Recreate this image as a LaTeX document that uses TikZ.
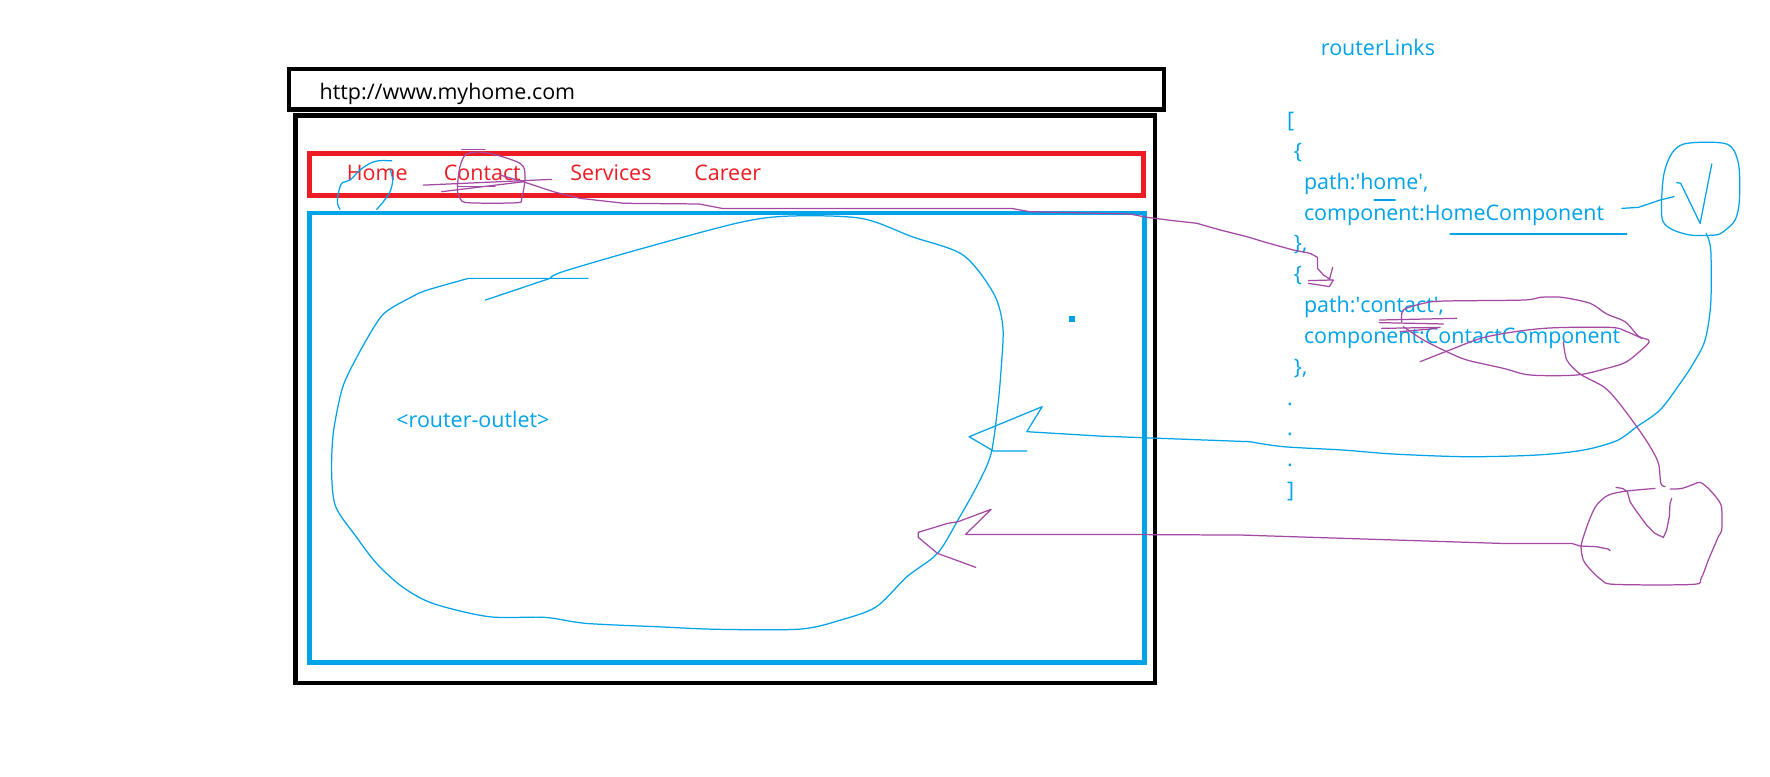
\documentclass[tikz,border=0pt]{standalone}
\usepackage{fontspec}
\newfontfamily\sketchfont{Open Sans}
\definecolor{paintblue}{HTML}{00A2E8}
\definecolor{paintred}{HTML}{ED1C24}
\definecolor{paintpurple}{HTML}{A349A4}
\tikzset{
  boxline/.style={line width=4pt},
  sketchpen/.style={line width=1.1pt, line join=round, line cap=round},
  sketchtext/.style={font=\sketchfont\fontsize{19}{23}\selectfont, inner sep=0pt, anchor=base west},
}
\begin{document}
\begin{tikzpicture}[x=1pt,y=-1pt]
\useasboundingbox[fill=white] (0,0) rectangle (1568,688);
% browser frame
\draw[boxline] (256,61) rectangle (1031,97); % address bar
\draw[boxline] (262,102.5) rectangle (1023,605); % page
\draw[boxline, paintred] (274,136) rectangle (1013,173); % menu
\draw[boxline, paintblue] (274,188.5) rectangle (1014,587); % outlet area
\node[sketchtext] (url) at (283,88.5) {http://www.myhome.com};
\node[sketchtext, text=paintred] (home) at (307,160) {Home};
\node[sketchtext, text=paintred] (contact) at (393,160) {Contact};
\node[sketchtext, text=paintred] (services) at (505,160) {Services};
\node[sketchtext, text=paintred] (career) at (615,160) {Career};
\node[sketchtext, text=paintblue] (outlet) at (351,379) {<router-outlet>};
% routes
\node[sketchtext, text=paintblue] (links) at (1170,49.6) {routerLinks};
\foreach \dx/\txt [count=\i from 0] in {0/{[}, 6/{\{}, 15/{path:\textquotesingle home\textquotesingle,},
  15/{component:HomeComponent}, 6/{\},}, 6/{\{}, 15/{path:\textquotesingle contact\textquotesingle,},
  15/{component:ContactComponent}, 6/{\},}, 0/{.}, 0/{.}, 0/{.}, 0/{]}}
  \node[sketchtext, text=paintblue] (route\i) at (1140+\dx, 113.1+27.3*\i) {\txt};
% blue strokes
\draw[sketchpen, paintblue] plot[smooth] coordinates {(347,142.4) (335.2,142.4) (327.8,144.7) (318.9,150.6) (310.1,159.5) (302.7,162.4) (299.7,171.3) (298.9,180.2) (301.2,185.5)};
\draw[sketchpen, paintblue] plot[smooth] coordinates {(345.5,150.1) (347.9,159.5) (345.5,169.8) (339.6,178.7) (333.7,185.5)};
\draw[sketchpen, paintblue] (430,265.8) -- (487.2,246.6) plot[smooth] coordinates {(487.2,246.6) (498.5,240.7) (564,221.5) (654.4,197.3) (699.5,191.4) (762.8,193.4) (808,209.7) (853.1,225.9) (880.2,259.9) (888.4,289.4) (887,324.9) (883.9,360.3) (878,401.6) (866.7,428.2) (848.6,460.7) (830.5,490.2) (803.4,510.9) (776.3,537.5) (744.7,549.3) (708.6,557.3) (636.3,557.5) (582,555.2) (518.8,552.2) (482.7,546.9) (433,546.3) (383.3,534.5) (356.2,519.7) (333.6,499.1) (315.5,475.4) (297.4,448.9) (293.8,419.3) (295.2,384) (302,348.5) (308.7,330.8) (324.5,301.2) (340.3,277.6) (365.2,262.8) (378.7,256.9) (415,246.6)} -- (521,246.6);
\fill[paintblue] (947,280) rectangle (952,285);
\draw[sketchpen, paintblue] (909.6,399.6) -- (880.2,399.6) -- (858.5,386.9) -- (923.2,360.3) -- (909.6,382.4) -- (974.2,386.3) -- (1107.4,391.3)
  plot[smooth] coordinates {(1107.4,391.3) (1136.9,395.7) (1190.1,398.7) (1234.4,402.2) (1299.4,404.6) (1361.4,403.1) (1402.7,398.7) (1432.2,390.4) (1450,378) (1470.6,363.2) (1488.4,339.6) (1500.1,321.9) (1510.5,301.2) (1515.5,268.7) (1515.5,221.5) (1511.4,206.7)};
\draw[sketchpen, paintblue] plot[smooth cycle] coordinates {(1494.2,127) (1529.7,127.6) (1540,144.7) (1540.9,177.2) (1537.1,194.9) (1526.7,205.2) (1519.3,208.2) (1497.2,208.2) (1479.5,202.3) (1472.1,192) (1473.6,156.5) (1481,135.8)};
\draw[sketchpen, paintblue] (1485.4,161.8) -- (1488.9,162.4) -- (1506.1,197.9) -- (1516.4,145.3);
\draw[sketchpen, paintblue] (1436.7,184.6) -- (1451.4,183.7) -- (1470.6,177.2) -- (1483,174.2);
\draw[sketchpen, paintblue] (1284.6,207.3) -- (1441.1,207.3);
\draw[sketchpen, paintblue] (1217.3,177.2) -- (1235.9,177.2);
% purple strokes
\draw[sketchpen, paintpurple] (409,132.3) -- (429.7,132.3);
\draw[sketchpen, paintpurple] plot[smooth cycle] coordinates {(413.4,136.5) (431.2,135.3) (460.7,144.7) (465.1,156.5) (462.2,175.7) (457.7,179.6) (414.9,179.6) (407.5,175.7) (405.2,166.9) (407.5,147.7)};
\draw[sketchpen, paintpurple] (375,164) -- (488.7,158.9);
\draw[sketchpen, paintpurple] (391.3,169.8) -- (463.6,161);
\draw[sketchpen, paintpurple] (406,165.4) -- (438.5,165.4);
\draw[sketchpen, paintpurple] (443,155.1) -- (463.6,161) -- (490.2,169.8) -- (513.8,175.7) -- (553.1,180.1) -- (619.3,180.7) -- (639.6,184.6) -- (896,184.6) -- (911.9,187.5) -- (1001,189.6) -- (1015.9,192.5) -- (1039.5,195.5) -- (1060.2,197.8) -- (1080.8,203.7) -- (1104.4,209.6) -- (1122.2,215) -- (1145.8,221.5) -- (1160.6,224.4) -- (1167.1,228) -- (1167.1,237.7) -- (1172.4,243.6) -- (1178.3,247.5);
\draw[sketchpen, paintpurple] (1180.6,236.8) -- (1177.7,247.5);
\draw[sketchpen, paintpurple] (1159.1,248.6) -- (1181.2,248) -- (1177.7,253.9) -- (1159.1,251);
\draw[sketchpen, paintpurple] (1222,283.5) -- (1290.5,282);
\draw[sketchpen, paintpurple] (1222,285.8) -- (1278.7,287);
\draw[sketchpen, paintpurple] (1224,290.9) -- (1275.7,290);
\draw[sketchpen, paintpurple] (1240.3,293.8) -- (1272.8,290.9);
\draw[sketchpen, paintpurple] plot[smooth] coordinates {(1241.8,285) (1243.2,274.6) (1261,268.7) (1278.7,266.7) (1349.5,265.8) (1364.3,263.4) (1383.5,263.4) (1408.6,268.7) (1423.4,278.2) (1439.6,285) (1451.4,297.7) (1460.3,301.2) (1458.8,305.6) (1441.1,320.4) (1423.4,326.3) (1396.8,332.2) (1355.4,332.2) (1331.8,326.3) (1299.4,318.9) (1281.6,311.5) (1261,301.2) (1243.2,289.4)};
\draw[sketchpen, paintpurple] plot[smooth] coordinates {(1258,320.4) (1284.6,310) (1317.1,298.3) (1367.3,290.9) (1426.3,290) (1441.1,293.8) (1454.4,299.7)};
\draw[sketchpen, paintpurple] plot[smooth] coordinates {(1385,302.7) (1388,318.9) (1399.8,331.3) (1420.4,342.5) (1432.2,354.4) (1450,378) (1461.8,395.7) (1469.2,410.5) (1471.3,428.2) (1475.1,431.1)};
\draw[sketchpen, paintpurple] plot[smooth] coordinates {(1466.1,432.7) (1441,435) (1424.8,438.6) (1414.4,447.4) (1408.5,459.2) (1403.2,474) (1400.6,484.3) (1402.6,496.1) (1407.9,503.5) (1418.9,513.9) (1430.7,517.7) (1499.5,517.7) (1506.9,512.4) (1513.4,496.1) (1522.2,475.5) (1525.2,469.6) (1525.2,450.4) (1522.2,443) (1513.4,432.7) (1506,427.3) (1500.1,429.1) (1489.7,432.7) (1479.4,433.3)};
\draw[sketchpen, paintpurple] (1431.6,431.8) -- (1437.5,432.7) -- (1441.6,435.6) -- (1444,444.5) -- (1449.9,453.3) -- (1458.7,465.1) -- (1466.1,472.5) -- (1473.5,476.1) -- (1476.4,469.6) -- (1478.8,457.8) -- (1479.4,446) -- (1480.9,441.5);
\draw[sketchpen, paintpurple] (1426.3,487.9) -- (1424.8,486.4) -- (1414.4,484.3) -- (1399.7,483.7) -- (1392.3,481.4) -- (1330,481.4) -- (1100,474) -- (974.2,473.4) -- (855.4,473.4) -- (878,451.2) -- (848.6,462.2) -- (839.6,463.6) -- (813.4,471.6) -- (813.4,476) -- (830.5,490.2) -- (864.4,502.6);
\end{tikzpicture}
\end{document}
